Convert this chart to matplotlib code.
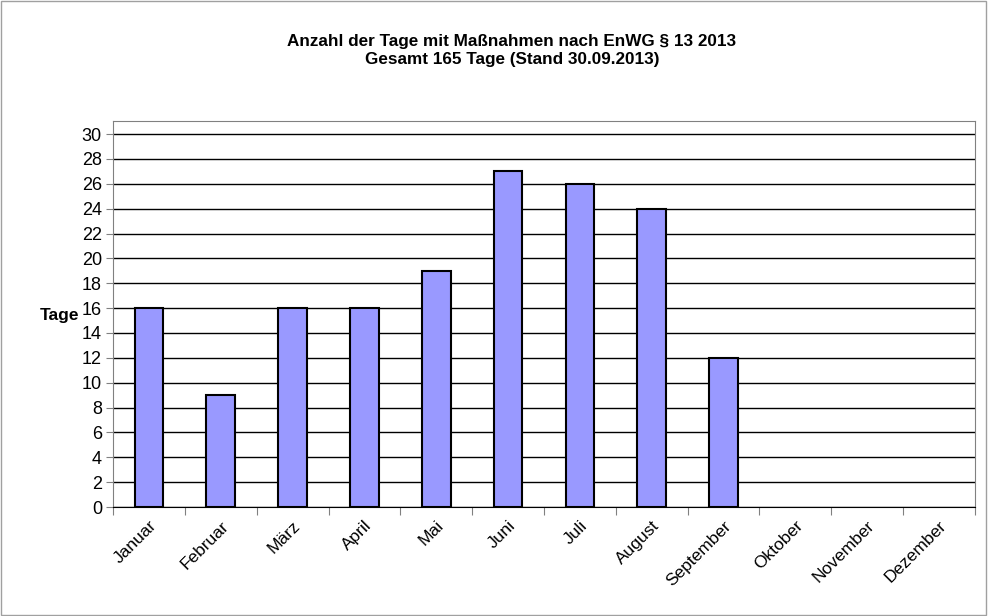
import matplotlib.pyplot as plt
from matplotlib.patches import Rectangle
import numpy as np

plt.rcParams['font.family'] = ['Liberation Sans', 'DejaVu Sans']

monate = ['Januar', 'Februar', 'März', 'April', 'Mai', 'Juni', 'Juli',
          'August', 'September', 'Oktober', 'November', 'Dezember']
tage = [16, 9, 16, 16, 19, 27, 26, 24, 12, 0, 0, 0]
titel = "Anzahl der Tage mit Maßnahmen nach EnWG § 13 2013\nGesamt 165 Tage (Stand 30.09.2013)"

fig = plt.figure(figsize=(9.88, 6.16), dpi=100)
fig.patches.append(Rectangle((0.001, 0.002), 0.997, 0.996, transform=fig.transFigure,
                             fill=False, edgecolor='#a0a0a0', linewidth=1))
ax = fig.add_axes([0.1144, 0.1769, 0.8724, 0.6266])

x = np.arange(len(monate))
# nur Monate mit Werten zeichnen
for xi, t in zip(x, tage):
    if t > 0:
        ax.bar(xi, t, width=0.4, color='#9999FF', edgecolor='black', linewidth=1.5, zorder=3)

ax.set_xlim(-0.5, len(monate) - 0.5)
ax.set_ylim(0, 31.05)
ax.set_yticks(np.arange(0, 31, 2))
ax.yaxis.grid(True, color='black', linewidth=1, zorder=0)
ax.set_axisbelow(True)

ax.set_xticks(np.arange(-0.5, len(monate), 1))
ax.set_xticklabels([])
ax.set_xticks(x, minor=True)
ax.set_xticklabels(monate, minor=True, rotation=45, ha='right', rotation_mode='anchor', fontsize=12.5)
ax.tick_params(axis='x', which='minor', length=0, pad=8)
ax.tick_params(axis='x', which='major', length=6, color='#808080')
ax.tick_params(axis='y', length=5, color='#808080', labelsize=13, pad=3)

for s in ['left', 'right', 'top']:
    ax.spines[s].set_color('#808080')
ax.spines['bottom'].set_color('black')

ax.set_ylabel('Tage', rotation=0, fontsize=12.5, fontweight='bold', ha='right', va='center')
ax.yaxis.set_label_coords(-0.039, 0.497)

fig.text(0.518, 0.918, titel, ha='center', va='center', fontsize=12.3, fontweight='bold', linespacing=1.2)

fig.savefig('out.png', dpi=100)
